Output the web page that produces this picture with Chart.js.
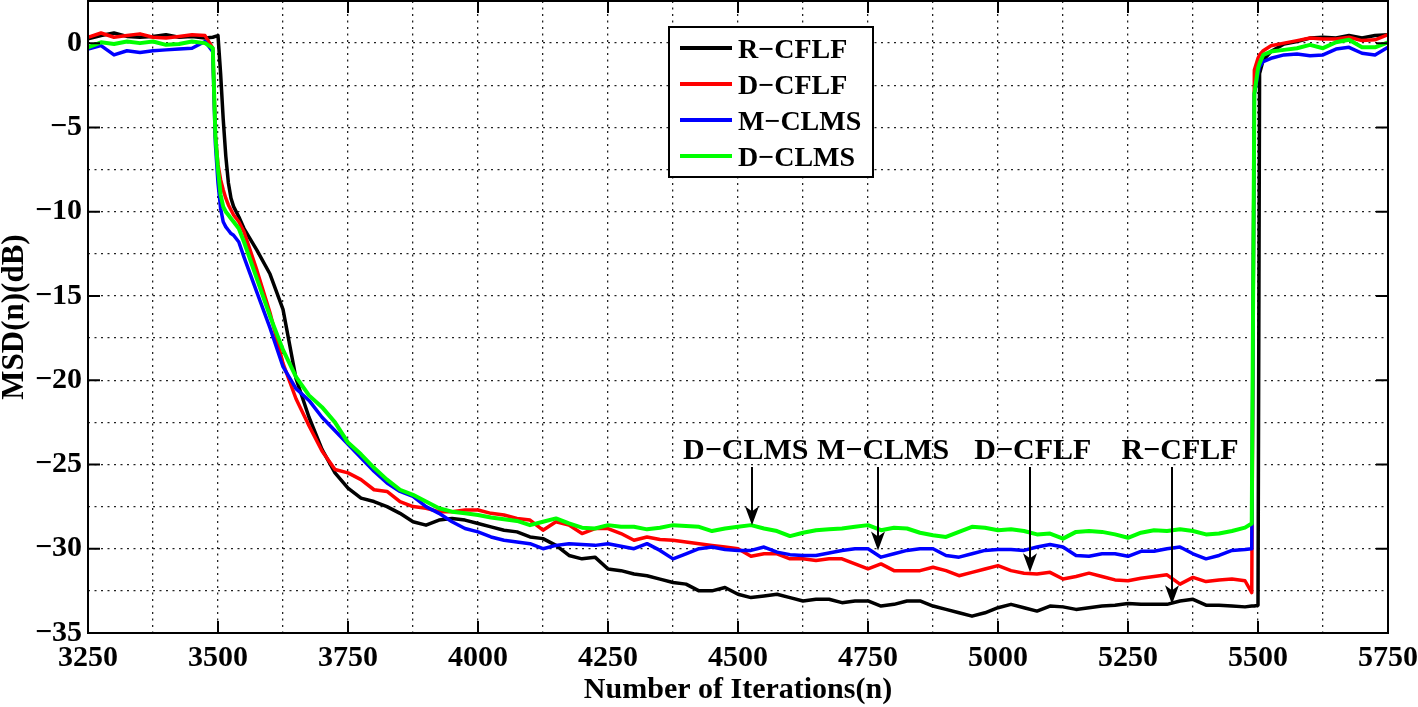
<!DOCTYPE html>
<html><head><meta charset="utf-8">
<script src="https://cdn.jsdelivr.net/npm/chart.js@4.4.1/dist/chart.umd.min.js"></script>
<style>html,body{margin:0;padding:0;background:#fff;}#wrap{width:1418px;height:707px;}</style>
</head><body><div id="wrap"><canvas id="c" width="1418" height="707"></canvas></div>
<script>
// ---------- data ----------
const iterations = [
 3250,3275,3300,3325,3350,3375,3400,3425,3450,3475,
 3490,3495,3500,3505,3510,3515,3520,3525,3530,3540,
 3550,3575,3600,3625,3650,3675,3700,3725,3750,3775,
 3800,3825,3850,3875,3900,3925,3950,3975,4000,4025,
 4050,4075,4100,4125,4150,4175,4200,4225,4250,4275,
 4300,4325,4350,4375,4400,4425,4450,4475,4500,4525,
 4550,4575,4600,4625,4650,4675,4700,4725,4750,4775,
 4800,4825,4850,4875,4900,4925,4950,4975,5000,5025,
 5050,5075,5100,5125,5150,5175,5200,5225,5250,5275,
 5300,5325,5350,5375,5400,5425,5450,5475,5488,5493,
 5500,5503,5510,5525,5550,5575,5600,5625,5650,5675,
 5700,5725,5750];

const msdRCFLF = [
 0.25,0.45,0.6,0.4,0.35,0.4,0.5,0.35,0.4,0.3,
 0.35,0.4,0.45,-1.8,-4.5,-6.7,-8.3,-9.2,-9.7,-10.3,
 -11.0,-12.3,-13.7,-15.8,-19.9,-22.2,-24.1,-25.5,-26.4,-27.0,
 -27.2,-27.5,-27.9,-28.4,-28.6,-28.3,-28.2,-28.3,-28.5,-28.7,
 -28.9,-29.0,-29.3,-29.4,-29.8,-30.4,-30.6,-30.5,-31.2,-31.3,
 -31.5,-31.6,-31.8,-32.0,-32.1,-32.5,-32.5,-32.3,-32.7,-32.9,
 -32.8,-32.7,-32.9,-33.1,-33.0,-33.0,-33.2,-33.1,-33.1,-33.4,
 -33.3,-33.1,-33.1,-33.4,-33.6,-33.8,-34.0,-33.8,-33.5,-33.3,
 -33.5,-33.7,-33.4,-33.45,-33.6,-33.5,-33.4,-33.35,-33.25,-33.3,
 -33.3,-33.3,-33.1,-33.0,-33.35,-33.35,-33.4,-33.45,-33.4,-33.4,
 -33.35,-1.8,-1.0,-0.5,-0.05,0.1,0.3,0.35,0.3,0.45,
 0.3,0.45,0.5];

const msdDCFLF = [
 0.35,0.6,0.35,0.45,0.55,0.35,0.3,0.4,0.5,0.45,
 -0.3,-5.5,-7.2,-8.1,-8.7,-9.2,-9.6,-9.9,-10.2,-10.6,
 -11.2,-13.5,-16.0,-19.0,-21.1,-22.7,-24.2,-25.3,-25.5,-25.9,
 -26.5,-26.6,-27.2,-27.5,-27.6,-27.8,-27.8,-27.7,-27.7,-27.9,
 -28.0,-28.2,-28.3,-28.9,-28.4,-28.6,-29.1,-28.8,-28.8,-29.1,
 -29.5,-29.3,-29.45,-29.5,-29.6,-29.7,-29.8,-29.9,-30.0,-30.45,
 -30.3,-30.3,-30.6,-30.6,-30.7,-30.6,-30.6,-30.9,-31.2,-30.9,
 -31.3,-31.3,-31.3,-31.1,-31.3,-31.6,-31.4,-31.2,-31.0,-31.3,
 -31.45,-31.5,-31.4,-31.8,-31.65,-31.45,-31.65,-31.85,-31.9,-31.75,
 -31.65,-31.55,-32.1,-31.7,-31.95,-31.85,-31.8,-31.9,-32.6,-1.6,
 -0.9,-0.7,-0.45,-0.15,0.0,0.15,0.3,0.25,0.25,0.35,
 0.15,0.2,0.5];

const msdMCLMS = [
 -0.35,-0.15,-0.7,-0.45,-0.55,-0.45,-0.4,-0.35,-0.3,0.1,
 -0.5,-6.0,-8.3,-9.8,-10.6,-10.9,-11.1,-11.3,-11.4,-11.8,
 -12.7,-14.8,-16.9,-19.2,-20.5,-21.2,-22.2,-23.0,-23.8,-24.6,
 -25.4,-26.1,-26.6,-26.9,-27.5,-27.9,-28.4,-28.8,-29.0,-29.3,
 -29.5,-29.6,-29.7,-30.0,-29.8,-29.7,-29.75,-29.8,-29.7,-29.85,
 -30.0,-29.7,-30.1,-30.6,-30.3,-30.0,-29.9,-30.05,-30.1,-30.1,
 -29.9,-30.2,-30.35,-30.4,-30.4,-30.25,-30.1,-30.0,-30.0,-30.5,
 -30.3,-30.1,-30.0,-30.0,-30.4,-30.5,-30.3,-30.1,-30.05,-30.05,
 -30.1,-29.9,-29.75,-29.9,-30.4,-30.45,-30.3,-30.3,-30.45,-30.15,
 -30.15,-30.0,-29.9,-30.3,-30.6,-30.4,-30.1,-30.05,-30.0,-3.0,
 -1.8,-1.4,-1.1,-0.9,-0.7,-0.65,-0.75,-0.7,-0.35,-0.25,
 -0.6,-0.7,-0.25];

const msdDCLMS = [
 -0.25,0.05,-0.05,0.1,0.0,0.1,-0.1,-0.05,0.1,0.0,
 -0.3,-5.5,-7.5,-9.0,-9.7,-10.0,-10.2,-10.4,-10.6,-11.0,
 -11.8,-14.0,-16.2,-18.2,-19.8,-20.9,-21.6,-22.5,-23.7,-24.4,
 -25.2,-25.9,-26.5,-26.8,-27.2,-27.6,-27.8,-27.9,-28.0,-28.15,
 -28.25,-28.35,-28.6,-28.4,-28.2,-28.5,-28.75,-28.8,-28.6,-28.7,
 -28.7,-28.85,-28.75,-28.6,-28.65,-28.7,-28.95,-28.8,-28.7,-28.6,
 -28.8,-28.95,-29.25,-29.05,-28.9,-28.85,-28.8,-28.7,-28.6,-28.9,
 -28.75,-28.8,-29.05,-29.2,-29.3,-29.0,-28.7,-28.75,-28.9,-28.85,
 -28.95,-29.15,-29.1,-29.4,-29.0,-28.95,-29.0,-29.15,-29.35,-29.05,
 -28.9,-28.95,-28.85,-28.95,-29.15,-29.1,-28.95,-28.75,-28.5,-3.0,
 -1.5,-1.2,-0.7,-0.5,-0.4,-0.3,-0.1,-0.3,0.05,0.2,
 -0.25,-0.25,0.05];

const seriesNames = ['R\u2212CFLF','D\u2212CFLF','M\u2212CLMS','D\u2212CLMS'];

const xGridValues = [3250,3375,3500,3625,3750,3875,4000,4125,4250,4375,4500,4625,4750,4875,5000,5125,5250,5375,5500,5625,5750];
const xTickLabels = [3250,3500,3750,4000,4250,4500,4750,5000,5250,5500,5750];
const yGridValues = [-35,-32.5,-30,-27.5,-25,-22.5,-20,-17.5,-15,-12.5,-10,-7.5,-5,-2.5,0,2.5];
const yTickLabels = [-35,-30,-25,-20,-15,-10,-5,0];

// callouts: label, text centre (x), arrow x, arrow tip (y)
const calloutLabels = ['D\u2212CLMS','M\u2212CLMS','D\u2212CFLF','R\u2212CFLF'];
const calloutTextX  = [4515,4779,5067,5350];
const calloutArrowX = [4527,4769,5062,5335];
const calloutTipY   = [-28.6,-30.1,-31.4,-33.3];
const calloutTextY = -24.7, calloutArrowTop = -25.15;

// ---------- chart ----------
const FONT = "'Liberation Serif','Times New Roman',serif";
Chart.defaults.font.family = FONT;
const mk = (arr) => iterations.map((x,i)=>({x:x, y:arr[i]}));
const minus = v => v < 0 ? '\u2212' + Math.abs(v) : String(v);

const decor = {
  id:'decor',
  afterDatasetsDraw(chart){
    const {ctx, chartArea:a, scales:{x,y}} = chart;
    ctx.save();
    // callouts
    ctx.fillStyle = '#000'; ctx.strokeStyle = '#000';
    ctx.font = "bold 30px " + FONT;
    ctx.textAlign = 'center'; ctx.textBaseline = 'alphabetic';
    calloutLabels.forEach((lab,i)=>{
      ctx.fillText(lab, x.getPixelForValue(calloutTextX[i]), y.getPixelForValue(calloutTextY));
      const ax = Math.round(x.getPixelForValue(calloutArrowX[i]));
      const y0 = y.getPixelForValue(calloutArrowTop), y1 = y.getPixelForValue(calloutTipY[i]);
      ctx.lineWidth = 2;
      ctx.beginPath(); ctx.moveTo(ax, y0); ctx.lineTo(ax, y1 - 8); ctx.stroke();
      ctx.beginPath(); ctx.moveTo(ax, y1); ctx.lineTo(ax - 7, y1 - 19); ctx.lineTo(ax, y1 - 14); ctx.lineTo(ax + 7, y1 - 19); ctx.closePath(); ctx.fill();
    });
    // legend
    const L = {l:669, t:27, r:873, b:177};
    ctx.fillStyle = '#fff'; ctx.fillRect(L.l, L.t, L.r - L.l, L.b - L.t);
    ctx.lineWidth = 2; ctx.strokeStyle = '#000'; ctx.strokeRect(L.l, L.t, L.r - L.l, L.b - L.t);
    ctx.font = "bold 28px " + FONT; ctx.textAlign = 'left'; ctx.textBaseline = 'alphabetic';
    chart.data.datasets.forEach((ds,i)=>{
      const ly = 48 + i * 36;
      ctx.strokeStyle = ds.borderColor; ctx.lineWidth = 4;
      ctx.beginPath(); ctx.moveTo(680, ly); ctx.lineTo(732, ly); ctx.stroke();
      ctx.fillStyle = '#000'; ctx.fillText(ds.label, 738, ly + 10);
    });
    // frame and inner ticks
    ctx.strokeStyle = '#000'; ctx.lineWidth = 2;
    ctx.strokeRect(a.left, a.top, a.right - a.left, a.bottom - a.top);
    const TL = 12;
    ctx.beginPath();
    xTickLabels.forEach(v=>{ const p = x.getPixelForValue(v); ctx.moveTo(p, a.bottom); ctx.lineTo(p, a.bottom - TL); ctx.moveTo(p, a.top); ctx.lineTo(p, a.top + TL); });
    yTickLabels.forEach(v=>{ const p = y.getPixelForValue(v); ctx.moveTo(a.left, p); ctx.lineTo(a.left + TL, p); ctx.moveTo(a.right, p); ctx.lineTo(a.right - TL, p); });
    ctx.stroke();
    // axis titles
    ctx.fillStyle = '#000'; ctx.font = "bold 30px " + FONT;
    ctx.textAlign = 'center'; ctx.textBaseline = 'middle';
    ctx.fillText('Number of Iterations(n)', (a.left + a.right) / 2, 690);
    ctx.font = "bold 31px " + FONT;
    ctx.translate(15, (a.top + a.bottom) / 2); ctx.rotate(-Math.PI / 2);
    ctx.fillText('MSD(n)(dB)', 0, 0);
    ctx.restore();
  }
};

const colors = ['#000000','#ff0000','#0000ff','#00ff00'];
const series = [msdRCFLF, msdDCFLF, msdMCLMS, msdDCLMS];
new Chart(document.getElementById('c'), {
  type:'line',
  data:{ datasets: series.map((s,i)=>({
    label: seriesNames[i], data: mk(s), borderColor: colors[i], backgroundColor: colors[i],
    borderWidth: i === 3 ? 4 : 3.5, pointRadius: 0, tension: 0, fill: false,
    borderJoinStyle: 'round', order: 3 - i
  })) },
  options:{
    responsive:false, animation:false, devicePixelRatio:1,
    layout:{padding:{left:0, right:30, top:1, bottom:0}},
    plugins:{legend:{display:false}, tooltip:{enabled:false}},
    scales:{
      x:{ type:'linear', min:3250, max:5750,
        afterBuildTicks: s => { s.ticks = xGridValues.map(v=>({value:v})); },
        afterFit: s => { s.height = 74; s.paddingLeft = 0; s.paddingRight = 0; },
        ticks:{ autoSkip:false, maxRotation:0, minRotation:0, padding:7, color:'#000',
          font:{size:30, weight:'bold'}, callback: v => xTickLabels.includes(v) ? String(v) : '' },
        grid:{ color:'#222', lineWidth:1.3, drawTicks:false },
        border:{ display:false, dash:[2,4.5] }
      },
      y:{ type:'linear', min:-35, max:2.5,
        afterBuildTicks: s => { s.ticks = yGridValues.map(v=>({value:v})); },
        afterFit: s => { s.width = 88; s.paddingTop = 0; s.paddingBottom = 0; },
        ticks:{ autoSkip:false, padding:6, color:'#000',
          font:{size:30, weight:'bold'}, callback: v => yTickLabels.includes(v) ? minus(v) : '' },
        grid:{ color:'#222', lineWidth:1.3, drawTicks:false },
        border:{ display:false, dash:[2,4.5] }
      }
    }
  },
  plugins:[decor]
});
</script></body></html>
